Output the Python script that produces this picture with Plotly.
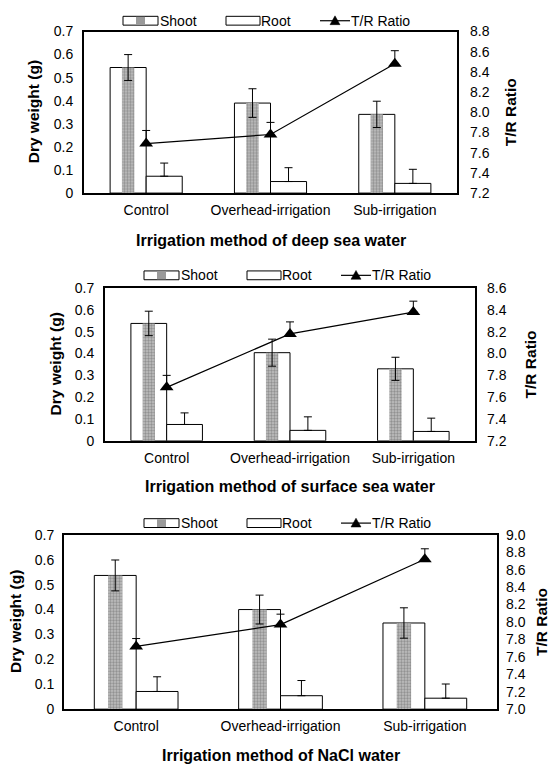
import plotly.graph_objects as go

W, H = 550, 772

# ---------------- data ----------------
categories = ["Control", "Overhead-irrigation", "Sub-irrigation"]
x_titles = ["Irrigation method of deep sea water",
            "Irrigation method of surface sea water",
            "Irrigation method of NaCl water"]
left_title = "Dry weight (g)"
right_title = "T/R Ratio"
legend_names = ["Shoot", "Root", "T/R Ratio"]

shoot_deep = [0.544, 0.390, 0.341]
shoot_deep_err = [0.056, 0.062, 0.057]
root_deep = [0.073, 0.050, 0.042]
root_deep_err = [0.057, 0.060, 0.061]
ratio_deep = [7.69, 7.78, 8.48]
ratio_deep_err = [0.13, 0.12, 0.13]

shoot_surface = [0.538, 0.404, 0.330]
shoot_surface_err = [0.056, 0.062, 0.053]
root_surface = [0.075, 0.048, 0.043]
root_surface_err = [0.053, 0.062, 0.061]
ratio_surface = [7.69, 8.18, 8.38]
ratio_surface_err = [0.11, 0.11, 0.10]

shoot_nacl = [0.537, 0.400, 0.346]
shoot_nacl_err = [0.062, 0.058, 0.061]
root_nacl = [0.071, 0.054, 0.044]
root_nacl_err = [0.059, 0.061, 0.057]
ratio_nacl = [7.72, 7.97, 8.72]
ratio_nacl_err = [0.09, 0.12, 0.12]

weight_ticks = [0, 0.1, 0.2, 0.3, 0.4, 0.5, 0.6, 0.7]
weight_ticktext = ["0", "0.1", "0.2", "0.3", "0.4", "0.5", "0.6", "0.7"]
ratio_range_deep = [7.2, 8.8]
ratio_range_surface = [7.2, 8.6]
ratio_range_nacl = [7.0, 9.0]

datasets = [
    (shoot_deep, shoot_deep_err, root_deep, root_deep_err, ratio_deep, ratio_deep_err, ratio_range_deep),
    (shoot_surface, shoot_surface_err, root_surface, root_surface_err, ratio_surface, ratio_surface_err, ratio_range_surface),
    (shoot_nacl, shoot_nacl_err, root_nacl, root_nacl_err, ratio_nacl, ratio_nacl_err, ratio_range_nacl),
]

# ---------------- layout geometry (pixels) ----------------
panels = [
    dict(l=84, r=457, t=24, b=189, legx=123, legy=13, ytx=33, rtx=510, xty=237, lstand=6, rstand=12),
    dict(l=105, r=475, t=286, b=442, legx=144, legy=273, ytx=55, rtx=530, xty=489, lstand=6, rstand=11),
    dict(l=64, r=497, t=538, b=716, legx=144, legy=526, ytx=15, rtx=541, xty=763, lstand=5, rstand=8),
]

FONT = "Liberation Sans, Arial, sans-serif"
TICKF = dict(family=FONT, size=14, color="black")
TITLEF = dict(family=FONT, size=15.5, color="black", weight="bold")


def fx(x):
    return x / W


def fy(y):
    return 1 - y / H


fig = go.Figure()
shapes = []
annotations = []
layout = {}

BAR_W = 0.29
BAND_W = 0.10

for i, (p, d) in enumerate(zip(panels, datasets)):
    shoot, shoot_err, root, root_err, ratio, ratio_err, rrange = d
    n = i + 1
    xa = "x" if n == 1 else f"x{n}"
    yl_n = 2 * n - 1
    yr_n = 2 * n
    yl = "y" if yl_n == 1 else f"y{yl_n}"
    yr = f"y{yr_n}"

    fig.add_trace(go.Bar(
        x=categories, y=shoot, xaxis=xa, yaxis=yl, width=BAR_W, offset=-BAR_W,
        marker=dict(color="white", line=dict(color="black", width=1)),
        showlegend=False, hoverinfo="skip"))
    fig.add_trace(go.Bar(
        x=categories, y=shoot, xaxis=xa, yaxis=yl, width=BAND_W,
        offset=-BAR_W / 2 - BAND_W / 2,
        marker=dict(color="#a6a6a6", line=dict(width=0),
                    pattern=dict(shape=".", fgcolor="#5e5e5e", bgcolor="#c2c2c2",
                                 size=3, solidity=0.5)),
        error_y=dict(type="data", array=shoot_err, color="black", thickness=1, width=4),
        showlegend=False, hoverinfo="skip"))
    fig.add_trace(go.Bar(
        x=categories, y=root, xaxis=xa, yaxis=yl, width=BAR_W, offset=0,
        marker=dict(color="white", line=dict(color="black", width=1)),
        error_y=dict(type="data", array=root_err, arrayminus=[0] * len(root_err),
                     symmetric=False, color="black", thickness=1, width=4),
        showlegend=False, hoverinfo="skip"))
    fig.add_trace(go.Scatter(
        x=categories, y=ratio, xaxis=xa, yaxis=yr, mode="lines+markers",
        line=dict(color="black", width=1.2),
        marker=dict(symbol="triangle-up", size=12, color="black"),
        error_y=dict(type="data", array=ratio_err, arrayminus=[0] * len(ratio_err),
                     symmetric=False, color="black", thickness=1, width=4),
        showlegend=False, hoverinfo="skip"))

    xkey = "xaxis" if n == 1 else f"xaxis{n}"
    ylkey = "yaxis" if yl_n == 1 else f"yaxis{yl_n}"
    yrkey = f"yaxis{yr_n}"
    layout[xkey] = dict(
        domain=[fx(p["l"]), fx(p["r"])], anchor=yl, type="category",
        range=[-0.5, 2.5], showline=True, mirror=True, linecolor="black",
        linewidth=2, ticks="", showgrid=False, tickfont=TICKF,
        ticklabelstandoff=3)
    layout[ylkey] = dict(
        domain=[fy(p["b"]), fy(p["t"])], anchor=xa, range=[0, 0.7],
        tickvals=weight_ticks, ticktext=weight_ticktext, showline=True,
        mirror=True, linecolor="black", linewidth=2, ticks="", showgrid=False,
        zeroline=False, tickfont=TICKF, ticklabelstandoff=p["lstand"])
    layout[yrkey] = dict(
        overlaying=yl, side="right", anchor=xa, range=rrange, tick0=rrange[0],
        dtick=0.2, tickformat=".1f", showline=False, showgrid=False,
        zeroline=False, ticks="", tickfont=TICKF, ticklabelstandoff=p["rstand"])

    # titles
    cy = (p["t"] + p["b"]) / 2
    cx = (p["l"] + p["r"]) / 2
    annotations.append(dict(x=fx(p["ytx"]), y=fy(cy), xref="paper", yref="paper",
                            text=left_title, textangle=-90, showarrow=False,
                            xanchor="center", yanchor="middle", font=TITLEF))
    annotations.append(dict(x=fx(p["rtx"]), y=fy(cy), xref="paper", yref="paper",
                            text=right_title, textangle=-90, showarrow=False,
                            xanchor="center", yanchor="middle", font=TITLEF))
    annotations.append(dict(x=fx(cx), y=fy(p["xty"]), xref="paper", yref="paper",
                            text=x_titles[i], showarrow=False,
                            xanchor="center", yanchor="middle",
                            font=dict(family=FONT, size=16, color="black", weight="bold")))

    # custom legend
    lx, ly = p["legx"], p["legy"]
    shapes.append(dict(type="rect", xref="paper", yref="paper",
                       x0=fx(lx), x1=fx(lx + 35), y0=fy(ly + 4.5), y1=fy(ly - 4.5),
                       line=dict(color="black", width=1), fillcolor="white"))
    shapes.append(dict(type="rect", xref="paper", yref="paper",
                       x0=fx(lx + 13), x1=fx(lx + 22), y0=fy(ly + 4), y1=fy(ly - 4),
                       line=dict(width=0), fillcolor="#9a9a9a"))
    annotations.append(dict(x=fx(lx + 37), y=fy(ly), xref="paper", yref="paper",
                            text=legend_names[0], showarrow=False, xanchor="left",
                            yanchor="middle", font=TICKF, xshift=-2))
    shapes.append(dict(type="rect", xref="paper", yref="paper",
                       x0=fx(lx + 103), x1=fx(lx + 137), y0=fy(ly + 4.5), y1=fy(ly - 4.5),
                       line=dict(color="black", width=1), fillcolor="white"))
    annotations.append(dict(x=fx(lx + 138), y=fy(ly), xref="paper", yref="paper",
                            text=legend_names[1], showarrow=False, xanchor="left",
                            yanchor="middle", font=TICKF, xshift=-2))
    shapes.append(dict(type="line", xref="paper", yref="paper",
                       x0=fx(lx + 197), x1=fx(lx + 227), y0=fy(ly), y1=fy(ly),
                       line=dict(color="black", width=1.2)))
    tx = lx + 212
    shapes.append(dict(type="path", xref="paper", yref="paper",
                       path=f"M {fx(tx - 5)} {fy(ly + 4)} L {fx(tx + 5)} {fy(ly + 4)} L {fx(tx)} {fy(ly - 5)} Z",
                       fillcolor="black", line=dict(color="black", width=0.5)))
    annotations.append(dict(x=fx(lx + 228), y=fy(ly), xref="paper", yref="paper",
                            text=legend_names[2], showarrow=False, xanchor="left",
                            yanchor="middle", font=TICKF, xshift=-2))

fig.update_layout(
    width=W, height=H, margin=dict(l=0, r=0, t=0, b=0),
    paper_bgcolor="white", plot_bgcolor="white", barmode="overlay",
    showlegend=False, shapes=shapes, annotations=annotations,
    font=dict(family=FONT, color="black"), **layout)

fig.write_html("out.html",
               config={"displayModeBar": False, "staticPlot": True},
               post_script="document.body.style.margin='0px';document.body.style.overflow='hidden';")
